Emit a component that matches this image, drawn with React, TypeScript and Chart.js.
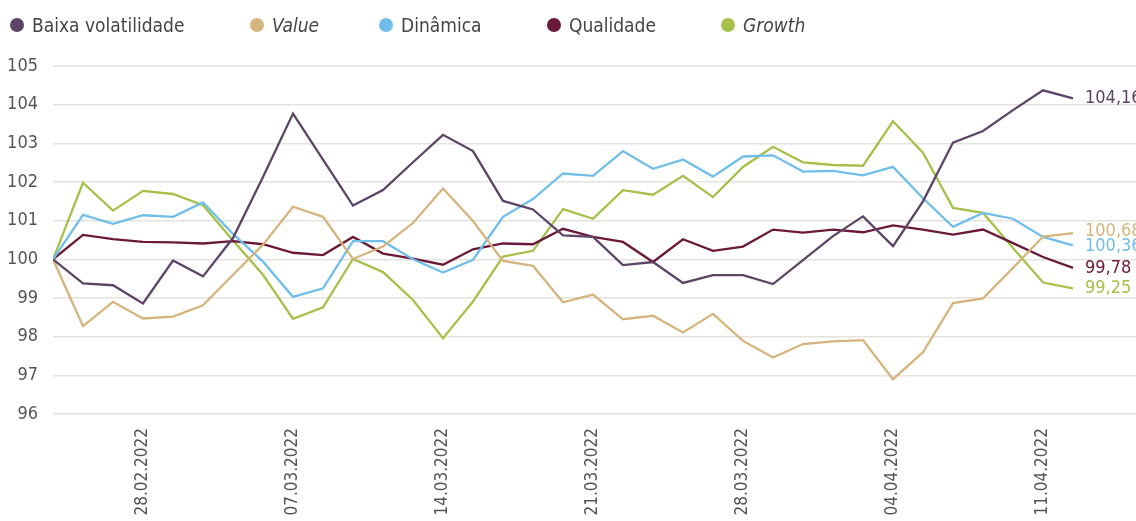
import React, { useEffect, useRef } from "react";
import { Chart, registerables } from "chart.js";

Chart.register(...registerables);

const dates = [
  "23.02.2022", "24.02.2022", "25.02.2022",
  "28.02.2022", "01.03.2022", "02.03.2022", "03.03.2022", "04.03.2022",
  "07.03.2022", "08.03.2022", "09.03.2022", "10.03.2022", "11.03.2022",
  "14.03.2022", "15.03.2022", "16.03.2022", "17.03.2022", "18.03.2022",
  "21.03.2022", "22.03.2022", "23.03.2022", "24.03.2022", "25.03.2022",
  "28.03.2022", "29.03.2022", "30.03.2022", "31.03.2022", "01.04.2022",
  "04.04.2022", "05.04.2022", "06.04.2022", "07.04.2022", "08.04.2022",
  "11.04.2022", "12.04.2022",
];

const tickDates = ["28.02.2022", "07.03.2022", "14.03.2022", "21.03.2022", "28.03.2022", "04.04.2022", "11.04.2022"];
const yTicks = [96, 97, 98, 99, 100, 101, 102, 103, 104, 105];

const baixaVolatilidade = [100, 99.38, 99.33, 98.86, 99.97, 99.56, 100.55, 102.13, 103.77, 102.58, 101.39, 101.79, 102.51, 103.22, 102.8, 101.51, 101.29, 100.62, 100.58, 99.85, 99.93, 99.39, 99.59, 99.59, 99.36, 99.98, 100.6, 101.11, 100.34, 101.5, 103.02, 103.32, 103.86, 104.37, 104.16];
const valueSeries = [100, 98.27, 98.9, 98.47, 98.52, 98.81, 99.6, 100.38, 101.36, 101.1, 100.01, 100.33, 100.94, 101.83, 100.99, 99.96, 99.83, 98.89, 99.09, 98.45, 98.54, 98.11, 98.59, 97.89, 97.46, 97.81, 97.88, 97.91, 96.9, 97.6, 98.87, 98.99, 99.78, 100.59, 100.68];
const dinamica = [100, 101.15, 100.92, 101.14, 101.1, 101.47, 100.66, 99.94, 99.03, 99.25, 100.47, 100.47, 100.0, 99.66, 99.99, 101.1, 101.56, 102.22, 102.16, 102.8, 102.34, 102.58, 102.14, 102.66, 102.69, 102.27, 102.29, 102.17, 102.39, 101.58, 100.84, 101.2, 101.05, 100.58, 100.36];
const qualidade = [100, 100.63, 100.52, 100.45, 100.44, 100.41, 100.47, 100.39, 100.17, 100.11, 100.58, 100.15, 100.02, 99.86, 100.26, 100.41, 100.39, 100.79, 100.58, 100.45, 99.93, 100.52, 100.22, 100.33, 100.77, 100.69, 100.77, 100.7, 100.88, 100.77, 100.64, 100.77, 100.42, 100.06, 99.78];
const growth = [100, 101.98, 101.26, 101.77, 101.69, 101.4, 100.49, 99.6, 98.46, 98.76, 100.01, 99.67, 98.95, 97.96, 98.91, 100.07, 100.22, 101.3, 101.05, 101.79, 101.67, 102.16, 101.61, 102.39, 102.91, 102.51, 102.44, 102.42, 103.57, 102.76, 101.33, 101.2, 100.29, 99.4, 99.25];

const seriesNames = ["Baixa volatilidade", "Value", "Dinâmica", "Qualidade", "Growth"];
const seriesValues = [baixaVolatilidade, valueSeries, dinamica, qualidade, growth];

const COLORS = ["#5d4466", "#d5b47d", "#70bee9", "#6c1838", "#a5c14a"];
const ITALIC = [false, true, false, false, true];
const LEGEND_LEFT = [10, 250, 379, 547, 721];
const FONT = "'Liberation Sans Narrow', 'DejaVu Sans Condensed', 'Roboto', sans-serif";

const endLabelsPlugin = {
  id: "endLabels",
  afterDatasetsDraw(chart: any) {
    const ctx = chart.ctx;
    const xs = chart.scales.x;
    const ys = chart.scales.y;
    const items = chart.data.datasets.map((ds: any, i: number) => {
      const last = ds.data[ds.data.length - 1];
      return { i, x: xs.getPixelForValue(last.x) + 12, y: ys.getPixelForValue(last.y), text: last.y.toFixed(2).replace(".", ","), color: COLORS[i] };
    });
    items.sort((a: any, b: any) => a.y - b.y);
    const gap = 15;
    for (let iter = 0; iter < 5; iter++) {
      for (let k = 1; k < items.length; k++) {
        const d = items[k].y - items[k - 1].y;
        if (d < gap) {
          const s = (gap - d) / 2;
          items[k].y += s;
          items[k - 1].y -= s;
        }
      }
    }
    ctx.save();
    ctx.font = `18px ${FONT}`;
    ctx.textAlign = "left";
    ctx.textBaseline = "middle";
    items.forEach((it: any) => {
      ctx.fillStyle = it.color;
      ctx.fillText(it.text, it.x, it.y);
    });
    ctx.restore();
  },
};

function ChartCanvas() {
  const ref = useRef<HTMLCanvasElement | null>(null);
  useEffect(() => {
    if (!ref.current) return;
    const tickIdx = tickDates.map((d) => dates.indexOf(d));
    const chart = new Chart(ref.current, {
      type: "line",
      data: {
        datasets: seriesValues.map((vals, i) => ({
          label: seriesNames[i],
          data: vals.map((v, k) => ({ x: k, y: v })),
          borderColor: COLORS[i],
          backgroundColor: COLORS[i],
          borderWidth: 2.3,
          pointRadius: 0,
          tension: 0,
          fill: false,
        })),
      },
      options: {
        animation: false,
        responsive: false,
        maintainAspectRatio: false,
        layout: { padding: { top: 66, right: 0, left: 0, bottom: 0 } },
        plugins: { legend: { display: false }, tooltip: { enabled: false } },
        scales: {
          x: {
            type: "linear",
            min: 0,
            max: 36.1,
            grid: { display: false, drawTicks: false },
            border: { display: false },
            afterBuildTicks: (scale: any) => {
              scale.ticks = tickIdx.map((v) => ({ value: v }));
            },
            afterFit: (scale: any) => {
              scale.height = 107;
            },
            ticks: {
              autoSkip: false,
              minRotation: 90,
              maxRotation: 90,
              padding: 14,
              color: "#555",
              font: { family: FONT, size: 17 },
              callback: (v: any) => dates[Number(v)] ?? "",
            },
          },
          y: {
            min: 96,
            max: 105,
            afterBuildTicks: (scale: any) => {
              scale.ticks = yTicks.map((v) => ({ value: v }));
            },
            afterFit: (scale: any) => {
              scale.width = 53;
            },
            grid: { color: "#e6e2de", lineWidth: 1.5, drawTicks: false },
            border: { display: false },
            ticks: {
              padding: 15,
              color: "#555",
              font: { family: FONT, size: 18 },
              callback: (v: any) => String(v),
            },
          },
        },
      },
      plugins: [endLabelsPlugin],
    } as any);
    return () => chart.destroy();
  }, []);
  return <canvas ref={ref} width={1136} height={521} style={{ width: 1136, height: 521, display: "block" }} />;
}

export default function App() {
  return (
    <div style={{ position: "absolute", left: 0, top: 0, width: 1136, height: 521, background: "#fff", overflow: "hidden" }}>
      <ChartCanvas />
      {seriesNames.map((name, i) => (
        <div
          key={name}
          style={{
            position: "absolute",
            left: LEGEND_LEFT[i],
            top: 13,
            height: 24,
            display: "flex",
            alignItems: "center",
            fontFamily: FONT,
            fontSize: 19,
            color: "#444",
            fontStyle: ITALIC[i] ? "italic" : "normal",
            whiteSpace: "nowrap",
          }}
        >
          <span style={{ display: "inline-block", width: 14, height: 14, borderRadius: "50%", background: COLORS[i], marginRight: 8 }} />
          <span>{name}</span>
        </div>
      ))}
    </div>
  );
}
